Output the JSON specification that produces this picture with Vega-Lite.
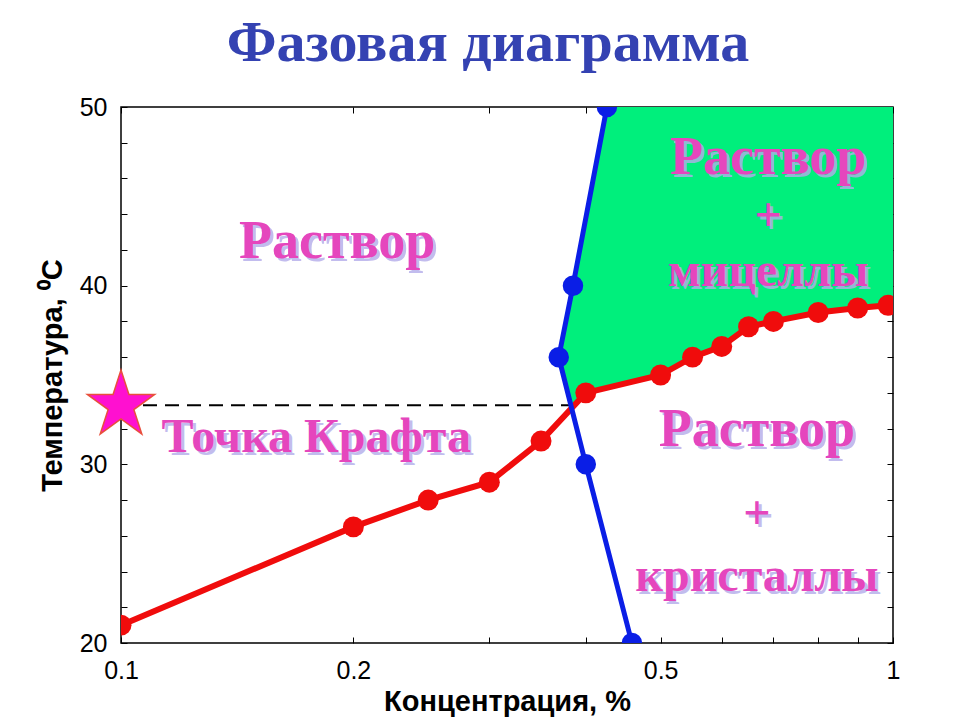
{
  "$schema": "https://vega.github.io/schema/vega-lite/v6.json",
  "autosize": {"type": "none"},
  "width": 772,
  "height": 536,
  "padding": {"left": 121, "top": 107, "right": 67, "bottom": 77},
  "background": "white",
  "title": {
    "text": "Фазовая диаграмма",
    "font": "Liberation Serif",
    "fontSize": 58,
    "fontWeight": "bold",
    "color": "#3442b2",
    "anchor": "middle",
    "baseline": "alphabetic",
    "offset": 41,
    "dy": 65,
    "dx": -19
  },
  "config": {
    "view": {"stroke": "black", "strokeWidth": 1.5},
    "axis": {
      "grid": false,
      "domain": false,
      "tickColor": "black",
      "tickWidth": 1,
      "labelFont": "Liberation Sans",
      "labelFontSize": 25,
      "labelColor": "black",
      "titleFont": "Liberation Sans",
      "titleFontSize": 29,
      "titleFontWeight": "bold",
      "titleColor": "black",
      "zindex": 1
    }
  },
  "datasets": {
    "red": [
      {"c": 0.1, "t": 21.0},
      {"c": 0.2, "t": 26.5},
      {"c": 0.25, "t": 28.0},
      {"c": 0.3, "t": 29.0},
      {"c": 0.35, "t": 31.3},
      {"c": 0.4, "t": 34.0},
      {"c": 0.5, "t": 35.0},
      {"c": 0.55, "t": 36.0},
      {"c": 0.6, "t": 36.6},
      {"c": 0.65, "t": 37.7},
      {"c": 0.7, "t": 38.0},
      {"c": 0.8, "t": 38.5},
      {"c": 0.9, "t": 38.75},
      {"c": 0.985, "t": 38.9}
    ],
    "blue": [
      {"c": 0.459, "t": 20},
      {"c": 0.4, "t": 30},
      {"c": 0.369, "t": 36},
      {"c": 0.385, "t": 40},
      {"c": 0.426, "t": 50}
    ],
    "micelles": [
      {"t": 33.17, "left": 0.3835, "right": 0.3835},
      {"t": 34.0, "left": 0.3792, "right": 0.4},
      {"t": 35.0, "left": 0.3741, "right": 0.5},
      {"t": 36.0, "left": 0.369, "right": 0.55},
      {"t": 36.6, "left": 0.3713, "right": 0.6},
      {"t": 37.7, "left": 0.3758, "right": 0.65},
      {"t": 38.0, "left": 0.377, "right": 0.7},
      {"t": 38.5, "left": 0.379, "right": 0.8},
      {"t": 38.75, "left": 0.38, "right": 0.9},
      {"t": 38.9, "left": 0.3806, "right": 0.985},
      {"t": 39.0, "left": 0.3811, "right": 1.0},
      {"t": 40.0, "left": 0.385, "right": 1.0},
      {"t": 50.0, "left": 0.426, "right": 1.0}
    ],
    "krafft": [{"c": 0.1, "c2": 0.383, "t": 33.3}],
    "labels": [
      {"c": 0.1905, "t": 42.45, "label": "Раствор"},
      {"c": 0.689, "t": 47.15, "label": "Раствор"},
      {"c": 0.689, "t": 43.84, "label": "+"},
      {"c": 0.689, "t": 40.77, "label": "мицеллы"},
      {"c": 0.179, "t": 31.48, "label": "Точка Крафта"},
      {"c": 0.6665, "t": 31.93, "label": "Раствор"},
      {"c": 0.6665, "t": 27.17, "label": "+"},
      {"c": 0.6665, "t": 23.7, "label": "кристаллы"}
    ]
  },
  "resolve": {"axis": {"x": "independent", "y": "independent"}},
  "layer": [
    {
      "data": {"name": "micelles"},
      "mark": {"type": "area", "orient": "horizontal", "color": "#00ef7c", "clip": true},
      "encoding": {
        "y": {
          "field": "t", "type": "quantitative",
          "scale": {"domain": [20, 50], "nice": false, "zero": false},
          "axis": {
            "orient": "left",
            "values": [20, 22, 24, 26, 28, 30, 32, 34, 36, 38, 40, 42, 44, 46, 48, 50],
            "labelExpr": "datum.value % 10 === 0 ? datum.label : ''",
            "tickSize": -6,
            "labelPadding": 20,
            "title": "Температура, ⁰C",
            "titlePadding": 12
          }
        },
        "x": {
          "field": "left", "type": "quantitative",
          "scale": {"type": "log", "domain": [0.1, 1], "nice": false},
          "axis": {
            "orient": "bottom",
            "values": [0.1, 0.2, 0.3, 0.4, 0.5, 0.6, 0.7, 0.8, 0.9, 1],
            "format": "~g",
            "labelExpr": "indexof([0.1, 0.2, 0.5, 1], datum.value) >= 0 ? datum.label : ''",
            "tickSize": -6,
            "labelPadding": 21,
            "labelFlush": false,
            "title": "Концентрация, %",
            "titlePadding": 4
          }
        },
        "x2": {"field": "right"}
      }
    },
    {
      "data": {"name": "krafft"},
      "mark": {"type": "rule", "color": "black", "strokeWidth": 2, "strokeDash": [14, 8]},
      "encoding": {
        "x": {
          "field": "c", "type": "quantitative",
          "axis": {
            "orient": "top",
            "values": [0.1, 0.2, 0.3, 0.4, 0.5, 0.6, 0.7, 0.8, 0.9, 1],
            "labels": false,
            "tickSize": -6,
            "title": null
          }
        },
        "x2": {"field": "c2"},
        "y": {
          "field": "t", "type": "quantitative",
          "axis": {
            "orient": "right",
            "values": [20, 22, 24, 26, 28, 30, 32, 34, 36, 38, 40, 42, 44, 46, 48, 50],
            "labels": false,
            "tickSize": -6,
            "title": null
          }
        }
      }
    },
    {
      "data": {"name": "red"},
      "mark": {"type": "line", "color": "#f00c0c", "strokeWidth": 6, "clip": true},
      "encoding": {
        "x": {"field": "c", "type": "quantitative", "axis": null},
        "y": {"field": "t", "type": "quantitative", "axis": null}
      }
    },
    {
      "data": {"name": "red"},
      "mark": {"type": "circle", "color": "#f00c0c", "opacity": 1, "size": 440, "clip": true},
      "encoding": {
        "x": {"field": "c", "type": "quantitative", "axis": null},
        "y": {"field": "t", "type": "quantitative", "axis": null}
      }
    },
    {
      "data": {"name": "blue"},
      "mark": {"type": "line", "color": "#0a1ee6", "strokeWidth": 5, "clip": true},
      "encoding": {
        "x": {"field": "c", "type": "quantitative", "axis": null},
        "y": {"field": "t", "type": "quantitative", "axis": null},
        "order": {"field": "t", "type": "quantitative"}
      }
    },
    {
      "data": {"name": "blue"},
      "mark": {"type": "circle", "color": "#0a1ee6", "opacity": 1, "size": 420, "clip": true},
      "encoding": {
        "x": {"field": "c", "type": "quantitative", "axis": null},
        "y": {"field": "t", "type": "quantitative", "axis": null}
      }
    },
    {
      "data": {"name": "krafft"},
      "mark": {
        "type": "point",
        "shape": "M0,-1L0.2245,-0.309L0.951,-0.309L0.3633,0.118L0.588,0.809L0,0.382L-0.588,0.809L-0.3633,0.118L-0.951,-0.309L-0.2245,-0.309Z",
        "size": 5000,
        "filled": true,
        "fill": "#ff10d0",
        "fillOpacity": 1,
        "stroke": "#e8503c",
        "strokeWidth": 1.5
      },
      "encoding": {
        "x": {"field": "c", "type": "quantitative", "axis": null},
        "y": {"field": "t", "type": "quantitative", "axis": null}
      }
    },
    {
      "data": {"name": "labels"},
      "transform": [{"filter": "datum.label === 'Раствор'"}],
      "mark": {
        "type": "text", "font": "Liberation Serif", "fontSize": 54, "fontWeight": "bold",
        "color": "#b4acea", "opacity": 0.8, "align": "center", "baseline": "middle", "dx": 3, "dy": 3
      },
      "encoding": {
        "x": {"field": "c", "type": "quantitative", "axis": null},
        "y": {"field": "t", "type": "quantitative", "axis": null},
        "text": {"field": "label"}
      }
    },
    {
      "data": {"name": "labels"},
      "transform": [{"filter": "datum.label !== 'Раствор'"}],
      "mark": {
        "type": "text", "font": "Liberation Serif", "fontSize": 48, "fontWeight": "bold",
        "color": "#b4acea", "opacity": 0.8, "align": "center", "baseline": "middle", "dx": 3, "dy": 3
      },
      "encoding": {
        "x": {"field": "c", "type": "quantitative", "axis": null},
        "y": {"field": "t", "type": "quantitative", "axis": null},
        "text": {"field": "label"}
      }
    },
    {
      "data": {"name": "labels"},
      "transform": [{"filter": "datum.label === 'Раствор'"}],
      "mark": {
        "type": "text", "font": "Liberation Serif", "fontSize": 54, "fontWeight": "bold",
        "color": "#e546bd", "align": "center", "baseline": "middle"
      },
      "encoding": {
        "x": {"field": "c", "type": "quantitative", "axis": null},
        "y": {"field": "t", "type": "quantitative", "axis": null},
        "text": {"field": "label"}
      }
    },
    {
      "data": {"name": "labels"},
      "transform": [{"filter": "datum.label !== 'Раствор'"}],
      "mark": {
        "type": "text", "font": "Liberation Serif", "fontSize": 48, "fontWeight": "bold",
        "color": "#e546bd", "align": "center", "baseline": "middle"
      },
      "encoding": {
        "x": {"field": "c", "type": "quantitative", "axis": null},
        "y": {"field": "t", "type": "quantitative", "axis": null},
        "text": {"field": "label"}
      }
    }
  ]
}
